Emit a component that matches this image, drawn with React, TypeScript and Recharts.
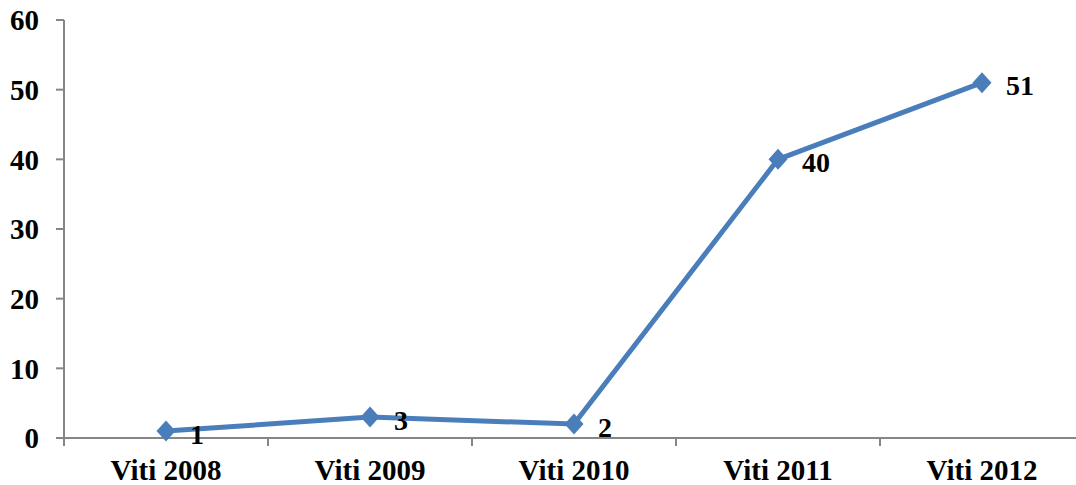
import { LineChart, Line, XAxis, YAxis, LabelList } from "recharts";

const years = ["Viti 2008", "Viti 2009", "Viti 2010", "Viti 2011", "Viti 2012"];
const counts = [1, 3, 2, 40, 51];
const yTicks = [0, 10, 20, 30, 40, 50, 60];

const data = years.map((year, i) => ({ year, count: counts[i] }));

const W = 1090;
const H = 485;
const M = { top: 20, right: 6, bottom: 0, left: 0 };
const Y_W = 64;
const X_H = 47;
const BAND = (W - M.left - M.right - Y_W) / years.length;

const AXIS = "#868686";
const BLUE = "#4A7EBB";
const FONT = "'Liberation Serif', 'Times New Roman', serif";

function XTick(props: any) {
  const { x, y, payload } = props;
  const axisY = y - 21;
  return (
    <g>
      <line x1={x - BAND / 2} x2={x - BAND / 2} y1={axisY} y2={axisY + 8} stroke={AXIS} strokeWidth={2} />
      <text x={x} y={y} dy="0.71em" textAnchor="middle" fontFamily={FONT} fontWeight="bold" fontSize={29} fill="#000">
        {payload.value}
      </text>
    </g>
  );
}

function Diamond(props: any) {
  const { cx, cy } = props;
  if (cx == null || cy == null) return null;
  return <polygon points={`${cx - 9.5},${cy} ${cx},${cy - 10.5} ${cx + 9.5},${cy} ${cx},${cy + 10.5}`} fill={BLUE} />;
}

function ValueLabel(props: any) {
  const { x, y, value } = props;
  return (
    <text x={x + 24} y={y + 3} dominantBaseline="central" fontFamily={FONT} fontWeight="bold" fontSize={28} fill="#000">
      {value}
    </text>
  );
}

export default function App() {
  return (
    <div style={{ position: "absolute", left: 0, top: 0, width: 1076, height: 485, overflow: "hidden", background: "#fff" }}>
      <LineChart width={W} height={H} data={data} margin={M}>
        <XAxis
          dataKey="year"
          scale="band"
          height={X_H}
          axisLine={{ stroke: AXIS, strokeWidth: 2 }}
          tickLine={false}
          tickSize={8}
          tickMargin={13}
          tick={<XTick />}
          interval={0}
        />
        <YAxis
          width={Y_W}
          domain={[0, 60]}
          ticks={yTicks}
          axisLine={{ stroke: AXIS, strokeWidth: 2 }}
          tickLine={{ stroke: AXIS, strokeWidth: 2 }}
          tickSize={8}
          tickMargin={17}
          tick={{ fontFamily: FONT, fontWeight: "bold", fontSize: 29, fill: "#000" }}
        />
        <Line
          dataKey="count"
          stroke={BLUE}
          strokeWidth={5}
          dot={<Diamond />}
          activeDot={false}
          isAnimationActive={false}
        >
          <LabelList dataKey="count" content={<ValueLabel />} />
        </Line>
      </LineChart>
    </div>
  );
}
